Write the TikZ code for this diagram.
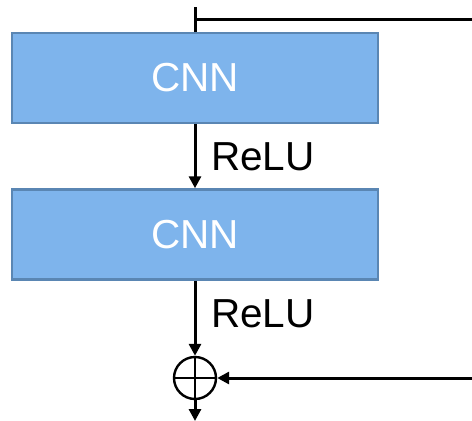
\documentclass[tikz,border=0pt]{standalone}
\usepackage{fontspec}
\setmainfont{Liberation Sans}
\usetikzlibrary{arrows.meta}
\definecolor{boxfill}{HTML}{7EB4EC}
\definecolor{boxline}{HTML}{5A86B3}
\begin{document}
\begin{tikzpicture}[x=1pt,y=-1pt,
  cnnbox/.style={draw=boxline,fill=boxfill,line width=2.5pt,minimum width=366pt,minimum height=90pt,inner sep=0pt,text=white,font=\fontsize{40.5}{44}\selectfont},
  conn/.style={line width=3pt,draw=black},
  arr/.style={conn,-{Triangle[width=12pt,length=12pt]}},
  lbl/.style={inner sep=0pt,anchor=base west,font=\fontsize{40.5}{44}\selectfont},
  addnode/.style={circle,draw,line width=2.4pt,minimum size=42pt,inner sep=0pt}]
\useasboundingbox (0,0) rectangle (472,421);
\node[cnnbox] (c1) at (195,78) {CNN};
\node[cnnbox] (c2) at (195,234.5) {CNN};
\node[addnode] (add) at (195,378) {};
\draw[line width=2.4pt] (add.north) -- (add.south) (add.west) -- (add.east);
\coordinate (top) at (195,7);
\coordinate (tr) at (472,19);
\coordinate (br) at (472,378);
\coordinate (out) at (195,421);
\draw[conn] (top) -- (c1.north);
\draw[conn] (top |- tr) -- (tr);
\draw[arr] (c1.south) -- (c2.north);
\draw[arr] (c2.south) -- (add.north);
\draw[arr] (br) -- (add.east);
\draw[arr] (add.south) -- (out);
\node[lbl] (r1) at (211,170) {ReLU};
\node[lbl] (r2) at (211,327) {ReLU};
\end{tikzpicture}
\end{document}
